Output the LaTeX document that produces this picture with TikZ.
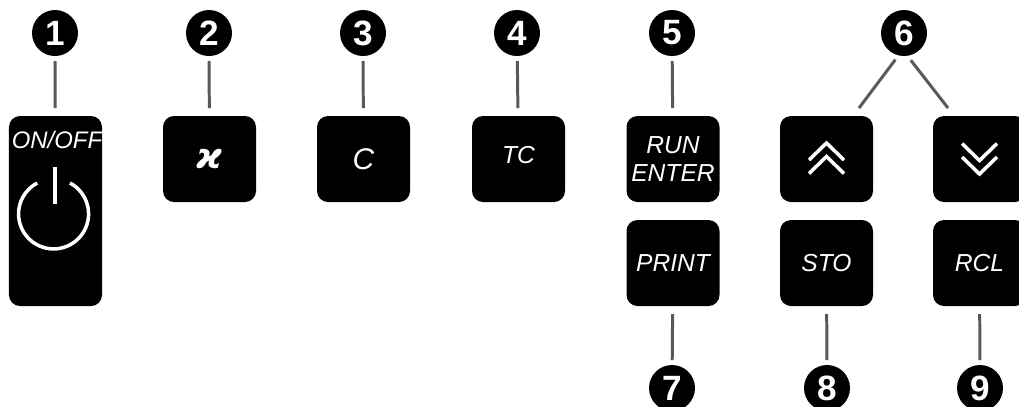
\documentclass[tikz,border=0pt]{standalone}
\usepackage{fontspec}
\setmainfont{Liberation Sans}
\newfontfamily\kappafont{DejaVu Sans}
\tikzset{
    keybox/.style={fill=black,text=white,rounded corners=0.11cm,minimum width=0.93cm,minimum height=0.86cm,inner sep=0pt,outer sep=0.08cm,align=center,font=\fontsize{7}{8}\selectfont\itshape},
    badge/.style={circle,fill=black,text=white,minimum size=0.46cm,inner sep=0pt,outer sep=0.05cm,font=\fontsize{10}{10}\selectfont\bfseries},
    lead/.style={black!65,line width=0.85pt},
    glyph/.style={white,line width=1pt}
}
\begin{document}
\begin{tikzpicture}
    \useasboundingbox (0,0) rectangle (10.19,-4.06);
    % keys
    \node[keybox,minimum height=1.90cm] (onoff) at (0.555,-2.11) {};
    \node[keybox] (kappa) at (2.095,-1.59) {{\kappafont\bfseries\fontsize{10}{10}\selectfont ϰ}};
    \node[keybox,font=\fontsize{8.5}{8.5}\selectfont\itshape] (cal) at (3.635,-1.59) {C};
    \node[keybox,text depth=0.08cm] (tc) at (5.185,-1.59) {TC};
    \node[keybox] (run) at (6.73,-1.59) {RUN\\ENTER};
    \node[keybox] (up) at (8.265,-1.59) {};
    \node[keybox] (down) at (9.795,-1.59) {};
    \node[keybox] (print) at (6.73,-2.63) {PRINT};
    \node[keybox] (sto) at (8.265,-2.63) {STO};
    \node[keybox] (rcl) at (9.795,-2.63) {RCL};
    % text and symbol on the long key
    \node[text=white,inner sep=0pt,font=\fontsize{6.8}{8}\selectfont\itshape] (onofftext) at (0.57,-1.40) {ON/OFF};
    \draw[glyph] (0.70,-1.83) arc[start angle=62,end angle=-242,radius=0.35];
    \draw[glyph] (0.55,-1.67) -- (0.55,-2.04);
    % arrows on the two keys
    \foreach \dy in {0,0.135} {
        \draw[glyph] ([shift={(-0.175,-0.01-\dy)}]up.center) -- ([shift={(0,0.16-\dy)}]up.center) -- ([shift={(0.175,-0.01-\dy)}]up.center);
        \draw[glyph] ([shift={(-0.175,0.02+\dy)}]down.center) -- ([shift={(0,-0.15+\dy)}]down.center) -- ([shift={(0.175,0.02+\dy)}]down.center);
    }
    % numbers
    \foreach \n/\x in {1/0.55,2/2.09,3/3.63,4/5.17,5/6.72,6/9.04} {
        \node[badge] (badge\n) at (\x,-0.33) {\n};
    }
    \foreach \n/\x in {7/6.72,8/8.27,9/9.80} {
        \node[badge] (badge\n) at (\x,-3.88) {\n};
    }
    % leaders
    \foreach \n/\k in {1/onoff,2/kappa,3/cal,4/tc,5/run,7/print,8/sto,9/rcl} {
        \draw[lead] (badge\n) -- (\k);
    }
    \coordinate (upend) at (8.59,-1.08);
    \coordinate (downend) at (9.48,-1.08);
    \draw[lead] (badge6.-108) -- (upend);
    \draw[lead] (badge6.-76) -- (downend);
\end{tikzpicture}
\end{document}
